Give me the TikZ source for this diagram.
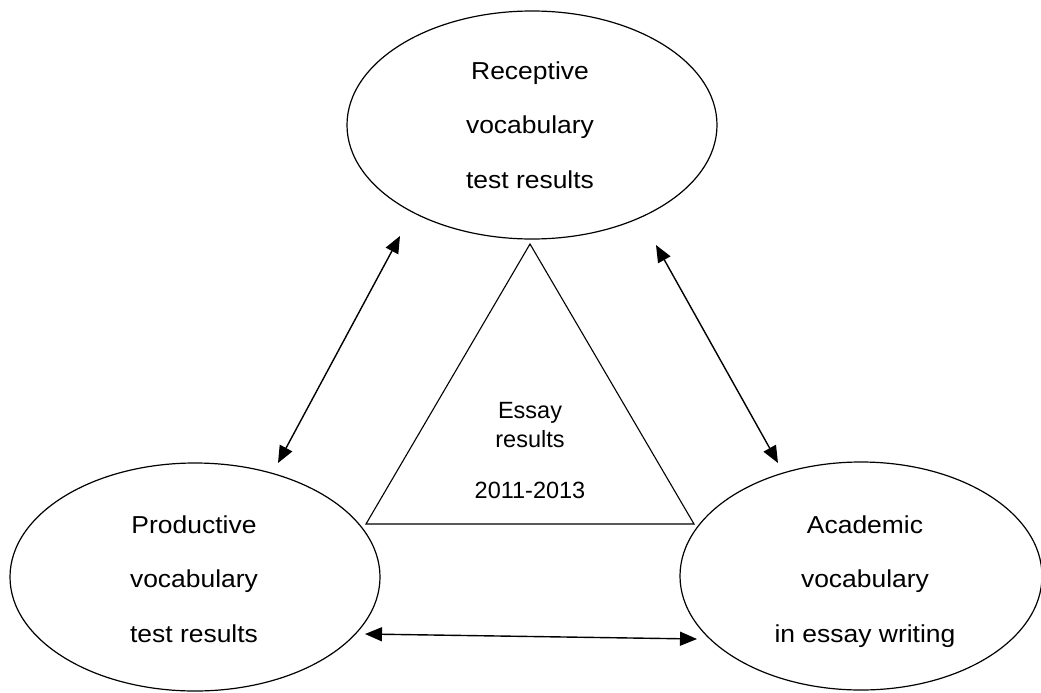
\documentclass[tikz,border=0pt]{standalone}
\usepackage{fontspec}
\setmainfont{Liberation Sans}
\newfontfamily\widesans{Liberation Sans}[FakeStretch=1.08]
\usetikzlibrary{shapes.geometric,arrows.meta}
\tikzset{
  oval/.style={ellipse, draw, line width=1.2pt, inner sep=0pt,
    minimum width=#1, minimum height=228pt},
  ovaltext/.style={align=center, font=\widesans\fontsize{24.5}{54.5}\selectfont},
  tritext/.style={anchor=base, font=\fontsize{23.5}{28}\selectfont, inner sep=0pt},
  link/.style={line width=1.4pt, {Triangle[length=17pt,width=14pt]}-{Triangle[length=17pt,width=14pt]}},
  triline/.style={line width=1.1pt, line join=miter}
}
\begin{document}
\begin{tikzpicture}[x=1pt,y=-1pt]
\useasboundingbox (0,0) rectangle (1041,693);
% ellipses
\node[oval=370pt] (rec) at (532,125) {};
\node[oval=370pt] (pro) at (195,577) {};
\node[oval=362pt] (aca) at (861,576) {};
% ellipse texts (anchor=base is the last line's baseline)
\node[ovaltext, anchor=base] (rect) at (530,188) {Receptive\\vocabulary\\test results};
\node[ovaltext, anchor=base] (prot) at (194,642) {Productive\\vocabulary\\test results};
\node[ovaltext, anchor=base] (acat) at (865,642) {Academic\\vocabulary\\in essay writing};
% triangle
\coordinate (apex) at (530,244);
\coordinate (bl) at (366,524);
\coordinate (br) at (694,524);
\draw[triline] (apex) -- (bl) -- (br) -- cycle;
\node[tritext] (t1) at (530,418) {Essay};
\node[tritext] (t2) at (530,447) {results};
\node[tritext] (t3) at (530,498) {2011-2013};
% connectors
\coordinate (a1s) at (400,236);
\coordinate (a1e) at (278,463);
\coordinate (a2s) at (656,245);
\coordinate (a2e) at (778,463);
\coordinate (a3s) at (365,634);
\coordinate (a3e) at (697,639);
\draw[link] (a1s) -- (a1e);
\draw[link] (a2s) -- (a2e);
\draw[link] (a3s) -- (a3e);
\end{tikzpicture}
\end{document}
